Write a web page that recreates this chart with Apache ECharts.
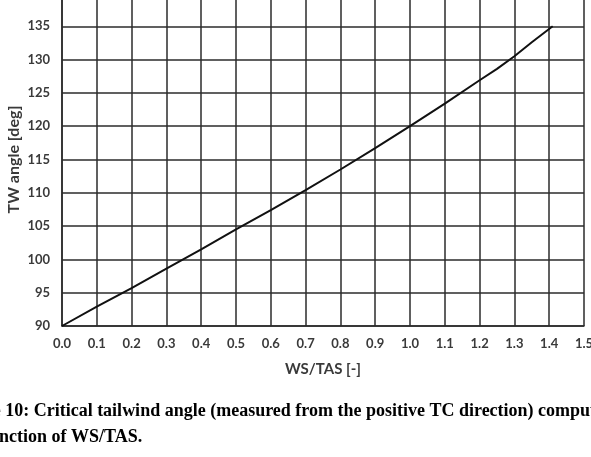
<!DOCTYPE html>
<html>
<head>
<meta charset="utf-8">
<script src="https://cdn.jsdelivr.net/npm/echarts@6/dist/echarts.min.js"></script>
<style>
  html, body { margin: 0; padding: 0; background: #fff; }
  #chart { width: 591px; height: 457px; }
</style>
</head>
<body>
<div id="chart"></div>
<script>
// values
const wsTas = [0.0, 0.1, 0.2, 0.3, 0.4, 0.5, 0.6, 0.7, 0.8, 0.9, 1.0, 1.1, 1.2, 1.25, 1.3, 1.35, 1.41];
const twAngle = [90, 92.9, 95.7, 98.6, 101.5, 104.5, 107.4, 110.4, 113.5, 116.7, 120, 123.4, 126.9, 128.6, 130.5, 132.6, 135];
const captionLines = [
  'Figure 10: Critical tailwind angle (measured from the positive TC direction) computed as a',
  'function of WS/TAS.'
];

const chart = echarts.init(document.getElementById('chart'));
const labelFont = { fontFamily: 'Lato', fontWeight: 'bold', color: '#3a3a3a' };
const gridLine = { lineStyle: { color: '#2b2b2b', width: 1.5 } };

chart.setOption({
  animation: false,
  grid: { left: 62, right: 7, top: -7, bottom: 131, outerBoundsMode: 'none', containLabel: false },
  xAxis: {
    type: 'value',
    min: 0,
    max: 1.5,
    interval: 0.1,
    name: 'WS/TAS [-]',
    nameLocation: 'middle',
    nameGap: 36,
    nameMoveOverlap: false,
    nameTextStyle: Object.assign({ fontSize: 15 }, labelFont),
    axisLine: gridLine,
    axisTick: { show: false },
    splitLine: gridLine,
    axisLabel: Object.assign({ fontSize: 13, margin: 11, formatter: v => v.toFixed(1) }, labelFont)
  },
  yAxis: {
    type: 'value',
    min: 90,
    max: 140,
    interval: 5,
    name: 'TW angle [deg]',
    nameLocation: 'middle',
    nameGap: 40,
    nameMoveOverlap: false,
    nameTextStyle: Object.assign({ fontSize: 16 }, labelFont),
    axisLine: { show: true, lineStyle: { color: '#2b2b2b', width: 1.5 } },
    axisTick: { show: false },
    splitLine: gridLine,
    axisLabel: Object.assign({ fontSize: 13, margin: 12 }, labelFont)
  },
  series: [{
    type: 'line',
    data: wsTas.map((x, i) => [x, twAngle[i]]),
    smooth: false,
    showSymbol: false,
    lineStyle: { color: '#111', width: 2 }
  }],
  graphic: [
    {
      type: 'text', x: -50, y: 411,
      style: { text: captionLines[0], fontFamily: 'Liberation Serif', fontWeight: 'bold', fontSize: 18, fill: '#000', verticalAlign: 'middle' }
    },
    {
      type: 'text', x: -17, y: 437,
      style: { text: captionLines[1], fontFamily: 'Liberation Serif', fontWeight: 'bold', fontSize: 18, fill: '#000', verticalAlign: 'middle' }
    }
  ]
});
</script>
</body>
</html>
